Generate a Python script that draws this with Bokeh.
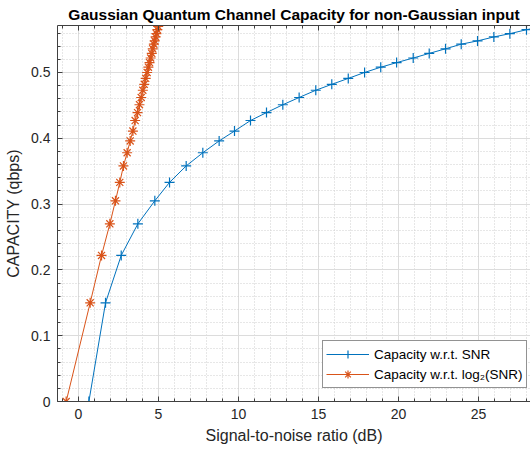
from bokeh.plotting import figure
from bokeh.models import (Range1d, SingleIntervalTicker, LinearAxis, Legend,
                          LegendItem, Grid, CustomJSTickFormatter)
from bokeh.embed import file_html
from bokeh.resources import INLINE

TITLE = "Gaussian Quantum Channel Capacity for non-Gaussian input"
X_LABEL = "Signal-to-noise ratio (dB)"
Y_LABEL = "CAPACITY (qbps)"
NAME_SNR = "Capacity w.r.t. SNR"
NAME_LOG = "Capacity w.r.t. log\u2082(SNR)"

# series 1: capacity vs SNR (dB)
snr_db = [0.65, 1.69, 2.67, 3.71, 4.77, 5.69, 6.73, 7.77, 8.79, 9.75,
          10.75, 11.75, 12.77, 13.79, 14.83, 15.83, 16.86, 17.88, 18.89, 19.88,
          20.92, 21.92, 22.94, 23.92, 24.94, 25.96, 26.96, 28.0, 29.0]
capacity = [0.0, 0.150, 0.222, 0.270, 0.305, 0.333, 0.358, 0.378, 0.396, 0.411,
            0.427, 0.439, 0.451, 0.462, 0.473, 0.482, 0.491, 0.500, 0.508, 0.515,
            0.522, 0.529, 0.536, 0.543, 0.548, 0.554, 0.559, 0.565, 0.570]
# series 2: capacity vs log2(SNR)
log2_snr = [-0.77, 0.73, 1.44, 1.96, 2.31, 2.58, 2.81, 3.04, 3.23, 3.40,
            3.54, 3.69, 3.81, 3.92, 4.02, 4.11, 4.20, 4.29, 4.37, 4.44,
            4.51, 4.58, 4.64, 4.71, 4.76, 4.82, 4.87, 4.93, 4.98]

BLUE = "#0072BD"
ORANGE = "#D95319"
TXT = "#262626"
FONT = "Liberation Sans"

p = figure(width=530, height=451, output_backend="svg", toolbar_location=None,
           x_range=Range1d(-1.3125, 28.25), y_range=Range1d(0, 0.5714),
           min_border_left=57, min_border_right=0, min_border_top=25,
           min_border_bottom=50, title=TITLE,
           x_axis_location=None, y_axis_location=None)
p.outline_line_color = None
p.background_fill_color = "white"
p.border_fill_color = "white"

p.title.align = "center"
p.title.text_font = FONT
p.title.text_font_size = "15.5px"
p.title.text_font_style = "bold"
p.title.text_color = "black"
p.title.standoff = 5

xt = SingleIntervalTicker(interval=5, num_minor_ticks=5)
yt = SingleIntervalTicker(interval=0.1, num_minor_ticks=5)

bottom = LinearAxis(ticker=xt, axis_label=X_LABEL)
left = LinearAxis(ticker=yt, axis_label=Y_LABEL)
top = LinearAxis(ticker=xt, formatter=CustomJSTickFormatter(code="return ''"),
                 major_label_standoff=0, axis_label=None)
p.add_layout(bottom, "below")
p.add_layout(left, "left")
p.add_layout(top, "above")

for dim, t in ((0, xt), (1, yt)):
    g = Grid(dimension=dim, ticker=t)
    g.grid_line_color = "#dcdcdc"
    g.grid_line_width = 1
    g.minor_grid_line_color = "#cfcfcf"
    g.minor_grid_line_dash = "1 2"
    g.minor_grid_line_width = 1
    p.add_layout(g, "center")

for ax in (bottom, left, top):
    ax.axis_line_color = "#404040"
    ax.axis_line_width = 1
    ax.major_tick_line_color = "#404040"
    ax.minor_tick_line_color = "#404040"
    ax.major_tick_in = 5
    ax.major_tick_out = 0
    ax.minor_tick_in = 3
    ax.minor_tick_out = 0

for ax in (bottom, left):
    ax.major_label_text_font = FONT
    ax.major_label_text_font_size = "14px"
    ax.major_label_text_color = TXT
    ax.axis_label_text_font = FONT
    ax.axis_label_text_font_size = "16px"
    ax.axis_label_text_font_style = "normal"
    ax.axis_label_text_color = TXT
    ax.major_label_standoff = 7

bottom.axis_label_standoff = 5
left.axis_label_standoff = 6
left.major_label_overrides = {0: "0"}

l1 = p.line(snr_db, capacity, line_color=BLUE, line_width=1)
s1 = p.scatter(snr_db, capacity, marker="cross", size=10, line_color=BLUE, line_width=1.2)
l2 = p.line(log2_snr, capacity, line_color=ORANGE, line_width=1)
s2 = p.scatter(log2_snr, capacity, marker="asterisk", size=10, line_color=ORANGE, line_width=1.2)

legend = Legend(items=[LegendItem(label=NAME_SNR, renderers=[l1, s1]),
                       LegendItem(label=NAME_LOG, renderers=[l2, s2])],
                location=(265, 13))
legend.label_text_font = FONT
legend.label_text_font_size = "13.5px"
legend.label_text_color = "black"
legend.glyph_width = 43
legend.glyph_height = 20
legend.label_height = 20
legend.label_standoff = 5
legend.spacing = 0
legend.padding = 3
legend.margin = 0
legend.border_line_color = TXT
legend.border_line_width = 1
legend.background_fill_color = "white"
legend.background_fill_alpha = 1
p.add_layout(legend, "center")

open("out.html", "w").write(file_html(p, INLINE))
